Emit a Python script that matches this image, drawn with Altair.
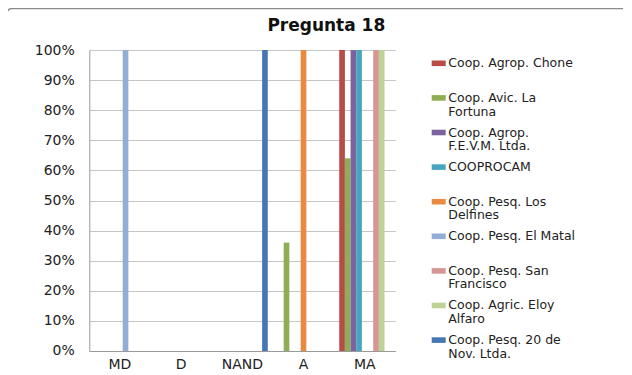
import altair as alt
import pandas as pd

categories = ["MD", "D", "NAND", "A", "MA"]
series = [
    "Coop. Agrop. Chone",
    "Coop. Avic. La Fortuna",
    "Coop. Agrop. F.E.V.M. Ltda.",
    "COOPROCAM",
    "Coop. Pesq. Los Delfines",
    "Coop. Pesq. El Matal",
    "Coop. Pesq. San Francisco",
    "Coop. Agric. Eloy Alfaro",
    "Coop. Pesq. 20 de Nov. Ltda.",
]
legend_line1 = [
    "Coop. Agrop. Chone",
    "Coop. Avic. La",
    "Coop. Agrop.",
    "COOPROCAM",
    "Coop. Pesq. Los",
    "Coop. Pesq. El Matal",
    "Coop. Pesq. San",
    "Coop. Agric. Eloy",
    "Coop. Pesq. 20 de",
]
legend_line2 = ["", "Fortuna", "F.E.V.M. Ltda.", "", "Delfines", "", "Francisco", "Alfaro", "Nov. Ltda."]
colors = ["#B94B48", "#8FAD52", "#7D62A0", "#46A6BF", "#EA8A40", "#93AED6", "#D79593", "#BDD396", "#4677B3"]

# values per series, in order of categories MD, D, NAND, A, MA
values = {
    "Coop. Agrop. Chone":           [0, 0, 0, 0, 1.00],
    "Coop. Avic. La Fortuna":       [0, 0, 0, 0.36, 0.64],
    "Coop. Agrop. F.E.V.M. Ltda.":  [0, 0, 0, 0, 1.00],
    "COOPROCAM":                    [0, 0, 0, 0, 1.00],
    "Coop. Pesq. Los Delfines":     [0, 0, 0, 1.00, 0],
    "Coop. Pesq. El Matal":         [1.00, 0, 0, 0, 0],
    "Coop. Pesq. San Francisco":    [0, 0, 0, 0, 1.00],
    "Coop. Agric. Eloy Alfaro":     [0, 0, 0, 0, 1.00],
    "Coop. Pesq. 20 de Nov. Ltda.": [0, 0, 1.00, 0, 0],
}

rows = []
for s in series:
    for c, v in zip(categories, values[s]):
        rows.append({"cat": c, "series": s, "value": v})
df = pd.DataFrame(rows)

leg = pd.DataFrame({
    "series": series,
    "idx": list(range(len(series))),
    "l1": legend_line1,
    "l2": legend_line2,
})

FONT = "DejaVu Sans"
color = alt.Color("series:N", scale=alt.Scale(domain=series, range=colors), legend=None)

bars = alt.Chart(df).mark_bar(strokeWidth=0).encode(
    x=alt.X("cat:N", sort=categories, title=None,
            scale=alt.Scale(paddingInner=0.167, paddingOuter=0.083),
            axis=alt.Axis(labelAngle=0, ticks=False, labelPadding=7, domainColor="#9a9a9a",
                          labelFont=FONT, labelFontSize=14, labelColor="#222222", grid=False)),
    xOffset=alt.XOffset("series:N", sort=series, scale=alt.Scale(paddingInner=0, paddingOuter=0)),
    y=alt.Y("value:Q", title=None, scale=alt.Scale(domain=[0, 1], nice=False),
            axis=alt.Axis(values=[i / 10 for i in range(11)], format="%", ticks=False,
                          labelPadding=15, domainColor="#9a9a9a", gridColor="#c6c6c6",
                          gridWidth=1.2, labelFont=FONT, labelFontSize=14, labelColor="#222222")),
    color=color,
)

ly = alt.Y("idx:Q", scale=alt.Scale(domain=[0, 8], range=[13.3, 290.1]), axis=None)

swatch = alt.Chart(leg).mark_point(
    shape="M-1,-0.4H1V0.4H-1Z", filled=True, size=196, opacity=1, strokeWidth=0
).encode(x=alt.value(349.4), y=ly, color=color)

text1 = alt.Chart(leg).mark_text(
    align="left", baseline="middle", font=FONT, fontSize=12.5, color="#222222"
).encode(x=alt.value(359), y=ly, text="l1:N")

text2 = alt.Chart(leg).mark_text(
    align="left", baseline="middle", font=FONT, fontSize=12.5, color="#222222", dy=13.6
).encode(x=alt.value(359), y=ly, text="l2:N")

title = alt.Chart(pd.DataFrame({"t": ["Pregunta 18"]})).mark_text(
    align="center", baseline="middle", font=FONT, fontSize=17, fontWeight="bold", color="#111111"
).encode(x=alt.value(237), y=alt.value(-24.3), text="t:N")

border = alt.Chart(pd.DataFrame({"a": [0]})).mark_rect(
    fill="white", fillOpacity=0, stroke="#8c8c8c", strokeWidth=1.5, cornerRadius=5
).encode(x=alt.value(-82.3), x2=alt.value(600), y=alt.value(-41.5), y2=alt.value(400))

chart = alt.layer(bars, swatch, text1, text2, title, border).resolve_scale(
    y="independent"
).properties(
    width=306, height=301,
    autosize=alt.AutoSizeParams(type="none"),
    padding={"left": 81.3, "top": 42, "right": 228, "bottom": 24},
).configure_view(strokeWidth=0)

chart.save("out.html", embed_options={"renderer": "svg", "actions": False})
